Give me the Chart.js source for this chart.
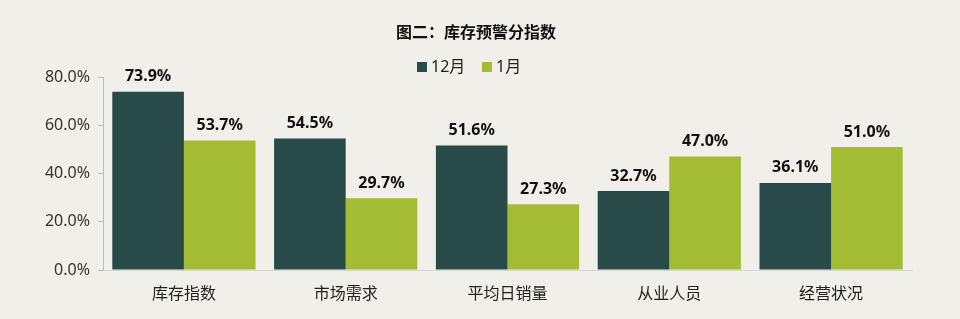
<!DOCTYPE html>
<html>
<head>
<meta charset="utf-8">
<script src="https://cdn.jsdelivr.net/npm/chart.js@4.4.1/dist/chart.umd.min.js"></script>
<style>
  html, body { margin: 0; padding: 0; background: #f0efea; }
  #wrap { width: 960px; height: 319px; }
</style>
</head>
<body>
<div id="wrap"><canvas id="c" width="960" height="319"></canvas></div>
<script>
const TITLE = '图二：库存预警分指数';
const categories = ['库存指数', '市场需求', '平均日销量', '从业人员', '经营状况'];
const seriesNames = ['12月', '1月'];
const dec = [73.9, 54.5, 51.6, 32.7, 36.1];
const jan = [53.7, 29.7, 27.3, 47.0, 51.0];
const yTicks = [0, 20, 40, 60, 80];

const DARK = '#284a48';
const GREEN = '#a4bc34';
const FONT = '"Noto Sans", "Noto Sans CJK SC", sans-serif';

// title, legend and value labels
const decorations = {
  id: 'decorations',
  afterDatasetsDraw(chart) {
    const ctx = chart.ctx;
    ctx.save();
    ctx.fillStyle = '#111';
    ctx.font = 'bold 16px ' + FONT;
    ctx.textAlign = 'center';
    ctx.textBaseline = 'middle';
    ctx.fillText(TITLE, 476, 33);

    // legend
    ctx.font = '16px ' + FONT;
    ctx.textAlign = 'left';
    ctx.fillStyle = DARK;
    ctx.fillRect(417, 62, 10, 10);
    ctx.fillStyle = '#222';
    ctx.fillText(seriesNames[0], 431, 67);
    ctx.fillStyle = GREEN;
    ctx.fillRect(482, 62, 10, 10);
    ctx.fillStyle = '#222';
    ctx.fillText(seriesNames[1], 496, 67);

    // value labels
    ctx.font = 'bold 16px ' + FONT;
    ctx.textAlign = 'center';
    ctx.textBaseline = 'bottom';
    ctx.fillStyle = '#111';
    chart.data.datasets.forEach((ds, i) => {
      chart.getDatasetMeta(i).data.forEach((bar, j) => {
        ctx.fillText(ds.data[j].toFixed(1) + '%', bar.x, bar.y - 7);
      });
    });
    ctx.restore();
  }
};

new Chart(document.getElementById('c'), {
  type: 'bar',
  data: {
    labels: categories,
    datasets: [
      { label: seriesNames[0], data: dec, backgroundColor: DARK },
      { label: seriesNames[1], data: jan, backgroundColor: GREEN }
    ]
  },
  options: {
    responsive: false,
    animation: false,
    layout: { padding: { top: 77, right: 48, left: 0, bottom: 0 } },
    datasets: { bar: { categoryPercentage: 0.885, barPercentage: 1.0 } },
    plugins: {
      legend: { display: false },
      title: { display: false },
      tooltip: { enabled: false }
    },
    scales: {
      x: {
        grid: { display: false, drawTicks: false },
        border: { display: true, color: '#d6d6d2' },
        ticks: { color: '#222', font: { size: 16, family: FONT }, padding: 15 },
        afterFit(scale) { scale.height = 49; }
      },
      y: {
        min: 0,
        max: 80,
        afterBuildTicks(scale) { scale.ticks = yTicks.map(v => ({ value: v })); },
        grid: { drawOnChartArea: false, drawTicks: true, tickLength: 5, color: '#bdbdb8' },
        border: { display: true, color: '#bdbdb8' },
        ticks: {
          color: '#333',
          font: { size: 16, family: FONT },
          padding: 8,
          callback: v => v.toFixed(1) + '%'
        },
        afterFit(scale) { scale.width = 103; }
      }
    }
  },
  plugins: [decorations]
});
</script>
</body>
</html>
